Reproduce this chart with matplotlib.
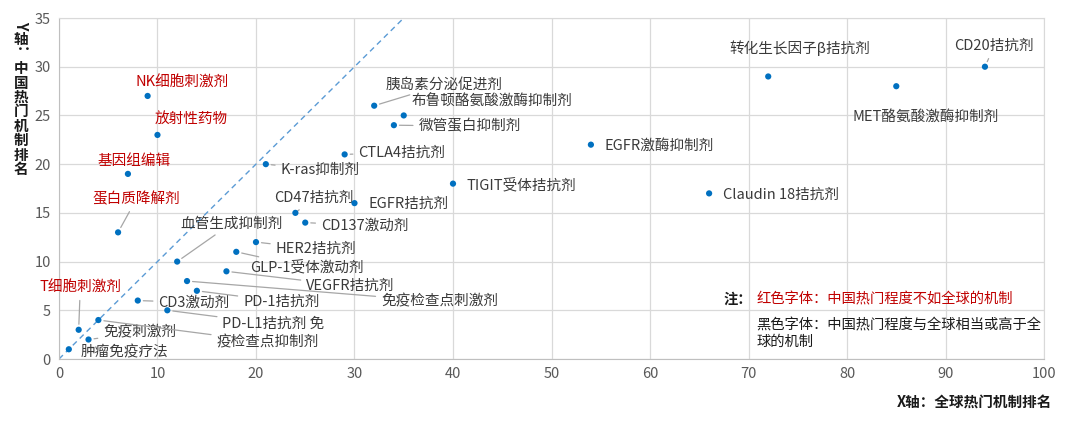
import matplotlib
matplotlib.use("Agg")
import matplotlib.pyplot as plt

plt.rcParams['font.family'] = ['Noto Sans CJK SC', 'DejaVu Sans']

# mechanism names (as printed), global rank (x), China rank (y)
names = ['肿瘤免疫疗法', '免疫刺激剂', 'T细胞刺激剂', '疫检查点抑制剂', 'CD3激动剂',
         'PD-L1拮抗剂 免', 'PD-1拮抗剂', '免疫检查点刺激剂', 'VEGFR拮抗剂', 'GLP-1受体激动剂',
         'HER2拮抗剂', '血管生成抑制剂', '蛋白质降解剂', '基因组编辑', '放射性药物',
         'NK细胞刺激剂', 'K-ras抑制剂', 'CTLA4拮抗剂', 'CD47拮抗剂', 'CD137激动剂',
         'EGFR拮抗剂', '胰岛素分泌促进剂', '布鲁顿酪氨酸激酶抑制剂', '微管蛋白抑制剂',
         'EGFR激酶抑制剂', 'TIGIT受体拮抗剂', 'Claudin 18拮抗剂', '转化生长因子β拮抗剂',
         'MET酪氨酸激酶抑制剂', 'CD20拮抗剂']
x_global = [1, 3, 2, 4, 8, 11, 14, 13, 17, 18, 20, 12, 6, 7, 10, 9, 21, 29, 24, 25,
            30, 32, 35, 34, 54, 40, 66, 72, 85, 94]
y_china = [1, 2, 3, 4, 6, 5, 7, 8, 9, 11, 12, 10, 13, 19, 23, 27, 20, 21, 15, 14,
           16, 26, 25, 24, 22, 18, 17, 29, 28, 30]
# mechanisms less popular in China than globally (red labels)
red_names = {'T细胞刺激剂', '蛋白质降解剂', '基因组编辑', '放射性药物', 'NK细胞刺激剂'}

# label placement: (text x, text y, leader line?)
label_pos = {
    '肿瘤免疫疗法': (2.2, 0.7, False),
    '免疫刺激剂': (4.5, 2.7, True),
    'T细胞刺激剂': (-2.0, 7.3, True),
    '疫检查点抑制剂': (16.0, 1.75, True),
    'CD3激动剂': (10.1, 5.8, True),
    'PD-L1拮抗剂 免': (16.6, 3.6, True),
    'PD-1拮抗剂': (18.7, 5.9, True),
    '免疫检查点刺激剂': (32.7, 5.9, True),
    'VEGFR拮抗剂': (25.1, 7.5, True),
    'GLP-1受体激动剂': (19.4, 9.4, True),
    'HER2拮抗剂': (22.0, 11.3, True),
    '血管生成抑制剂': (12.3, 13.9, True),
    '蛋白质降解剂': (3.4, 16.4, True),
    '基因组编辑': (3.9, 20.3, False),
    '放射性药物': (9.7, 24.7, False),
    'NK细胞刺激剂': (7.8, 28.4, False),
    'K-ras抑制剂': (22.5, 19.4, True),
    'CTLA4拮抗剂': (30.4, 21.2, True),
    'CD47拮抗剂': (21.8, 16.5, True),
    'CD137激动剂': (26.6, 13.7, True),
    'EGFR拮抗剂': (31.4, 15.9, False),
    '胰岛素分泌促进剂': (33.2, 28.2, True),
    '布鲁顿酪氨酸激酶抑制剂': (35.8, 26.4, False),
    '微管蛋白抑制剂': (36.5, 23.9, True),
    'EGFR激酶抑制剂': (55.4, 21.9, False),
    'TIGIT受体拮抗剂': (41.4, 17.8, False),
    'Claudin 18拮抗剂': (67.4, 16.9, False),
    '转化生长因子β拮抗剂': (68.1, 31.9, False),
    'MET酪氨酸激酶抑制剂': (80.6, 24.9, False),
    'CD20拮抗剂': (90.9, 32.1, True),
}

fig = plt.figure(figsize=(10.8, 4.34), dpi=100)
ax = fig.add_axes([0.0546, 0.1728, 0.9121, 0.7857])

ax.set_xlim(0, 100)
ax.set_ylim(0, 35)
ax.set_xticks(range(0, 101, 10))
ax.set_yticks(range(0, 36, 5))
ax.grid(True, color='#d9d9d9', lw=0.9)
ax.set_axisbelow(True)
for sp in ax.spines.values():
    sp.set_color('#d9d9d9')
ax.spines['left'].set_color('#bfbfbf')
ax.spines['bottom'].set_color('#bfbfbf')
ax.tick_params(length=0, labelsize=10.5, labelcolor='#595959', pad=6)

# y = x reference line
ax.plot([0, 35], [0, 35], ls=(0, (4, 3)), color='#5b9bd5', lw=1.0, zorder=2)

ax.scatter(x_global, y_china, s=20, color='#0070c0', zorder=4, edgecolors='none')

for name, xv, yv in zip(names, x_global, y_china):
    tx, ty, line = label_pos[name]
    color = '#c00000' if name in red_names else '#3a3a3a'
    if line:
        ax.annotate(name, xy=(xv, yv), xytext=(tx, ty), ha='left', va='center',
                    fontsize=10.5, color=color, fontweight='medium',
                    annotation_clip=False,
                    arrowprops=dict(arrowstyle='-', color='#a6a6a6', lw=0.9,
                                    shrinkA=2, shrinkB=4))
    else:
        ax.text(tx, ty, name, ha='left', va='center', fontsize=10.5, color=color,
                fontweight='medium')

# legend note
ax.text(67.5, 6.1, '注：', ha='left', va='center', fontsize=10.3, color='#1a1a1a',
        fontweight='bold')
ax.text(70.8, 6.1, '红色字体：中国热门程度不如全球的机制', ha='left', va='center',
        fontsize=10.3, color='#c00000', fontweight='medium')
ax.text(70.8, 2.6, '黑色字体：中国热门程度与全球相当或高于全\n球的机制', ha='left',
        va='center', fontsize=10.3, color='#1a1a1a', linespacing=1.25,
        fontweight='medium')

# axis titles
fig.text(0.974, 0.075, 'X轴：全球热门机制排名', ha='right', va='center',
         fontsize=10.5, color='#1a1a1a', fontweight='bold')

ylab = 'Y轴：中国热门机制排名'
y_top = 1 - 25 / 434
step = 14.4 / 434
for i, ch in enumerate(ylab):
    rot = -90 if ch in 'Y：' else 0
    fig.text(21 / 1080, y_top - i * step, ch, ha='center', va='center',
             fontsize=10.5, color='#1a1a1a', fontweight='bold', rotation=rot)

fig.savefig('out.png', dpi=100)
